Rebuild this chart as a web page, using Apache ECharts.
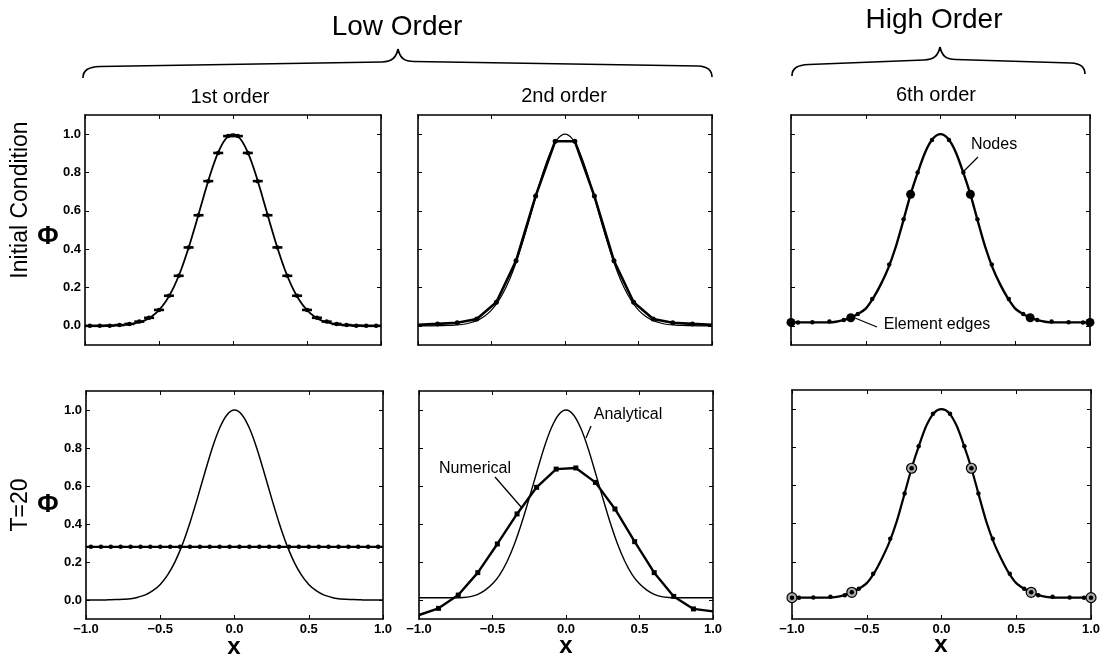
<!DOCTYPE html>
<html>
<head>
<meta charset="utf-8">
<script src="https://cdn.jsdelivr.net/npm/echarts@6/dist/echarts.min.js"></script>
<style>
    html, body { margin: 0; padding: 0; background: #fff; }
    #grafiek { width: 1104px; height: 658px; }
</style>
</head>
<body>
<div id="grafiek"></div>
<script>
// analytische oplossing (fijn raster)
const xExact = [-1.0, -0.95, -0.9, -0.85, -0.8, -0.75, -0.7, -0.65, -0.6, -0.55, -0.5, -0.45, -0.4, -0.35, -0.3, -0.25, -0.2, -0.15, -0.1, -0.05,
    0.0, 0.05, 0.1, 0.15, 0.2, 0.25, 0.3, 0.35, 0.4, 0.45, 0.5, 0.55, 0.6, 0.65, 0.7, 0.75, 0.8, 0.85, 0.9, 0.95, 1.0];
const phiExact = [0.000, 0.000, 0.000, 0.001, 0.002, 0.004, 0.007, 0.015, 0.027, 0.049, 0.082, 0.132, 0.202, 0.294, 0.407, 0.535, 0.670, 0.799, 0.905, 0.975,
    1.000, 0.975, 0.905, 0.799, 0.670, 0.535, 0.407, 0.294, 0.202, 0.132, 0.082, 0.049, 0.027, 0.015, 0.007, 0.004, 0.002, 0.001, 0.000, 0.000, 0.000];
const phiExactT20 = [0.012, 0.012, 0.012, 0.012, 0.012, 0.012, 0.013, 0.018, 0.030, 0.052, 0.085, 0.134, 0.204, 0.296, 0.409, 0.537, 0.670, 0.799, 0.905, 0.975,
    1.000, 0.975, 0.905, 0.799, 0.670, 0.537, 0.409, 0.296, 0.204, 0.134, 0.085, 0.052, 0.030, 0.018, 0.013, 0.012, 0.012, 0.012, 0.012, 0.012, 0.012];

// 6de orde: doorlopende curve (zelfde raster)
const phiCurve6Init = [0.018, 0.018, 0.018, 0.018, 0.018, 0.018, 0.021, 0.030, 0.042, 0.063, 0.090, 0.145, 0.215, 0.300, 0.410, 0.545, 0.686, 0.805, 0.910, 0.977,
    1.000, 0.977, 0.910, 0.805, 0.686, 0.545, 0.410, 0.300, 0.215, 0.145, 0.090, 0.063, 0.042, 0.030, 0.021, 0.018, 0.018, 0.018, 0.018, 0.018, 0.018];
const phiCurve6T20 = [0.012, 0.012, 0.012, 0.012, 0.012, 0.012, 0.016, 0.025, 0.040, 0.060, 0.088, 0.142, 0.215, 0.300, 0.410, 0.548, 0.690, 0.810, 0.915, 0.980,
    1.000, 0.980, 0.915, 0.810, 0.690, 0.548, 0.410, 0.300, 0.215, 0.142, 0.088, 0.060, 0.040, 0.025, 0.016, 0.012, 0.012, 0.012, 0.012, 0.012, 0.012];

// 1ste orde: celgemiddelden (30 cellen)
const xCell = [-0.967, -0.9, -0.833, -0.767, -0.7, -0.633, -0.567, -0.5, -0.433, -0.367, -0.3, -0.233, -0.167, -0.1, -0.033,
    0.033, 0.1, 0.167, 0.233, 0.3, 0.367, 0.433, 0.5, 0.567, 0.633, 0.7, 0.767, 0.833, 0.9, 0.967];
const phiCellInit = [0.000, 0.000, 0.001, 0.004, 0.010, 0.022, 0.042, 0.083, 0.157, 0.261, 0.409, 0.577, 0.755, 0.902, 0.990,
    0.990, 0.902, 0.755, 0.577, 0.409, 0.261, 0.157, 0.083, 0.042, 0.022, 0.010, 0.004, 0.001, 0.000, 0.000];
const phiCellT20 = [0.28, 0.28, 0.28, 0.28, 0.28, 0.28, 0.28, 0.28, 0.28, 0.28, 0.28, 0.28, 0.28, 0.28, 0.28,
    0.28, 0.28, 0.28, 0.28, 0.28, 0.28, 0.28, 0.28, 0.28, 0.28, 0.28, 0.28, 0.28, 0.28, 0.28];

// 2de orde: knopen
const xNode2 = [-1.0, -0.867, -0.733, -0.6, -0.467, -0.333, -0.2, -0.067, 0.067, 0.2, 0.333, 0.467, 0.6, 0.733, 0.867, 1.0];
const phiNode2Init = [0.005, 0.010, 0.016, 0.036, 0.123, 0.339, 0.677, 0.963, 0.963, 0.677, 0.339, 0.123, 0.036, 0.016, 0.010, 0.005];
const phiNode2T20 = [-0.079, -0.044, 0.026, 0.144, 0.295, 0.453, 0.593, 0.689, 0.695, 0.619, 0.479, 0.307, 0.144, 0.019, -0.047, -0.060];

// 6de orde: knopen (5 elementen, 6 punten per element)
const xNode6 = [-1.0, -0.953, -0.857, -0.743, -0.647, -0.6, -0.553, -0.457, -0.343, -0.247, -0.2, -0.153, -0.057,
    0.057, 0.153, 0.2, 0.247, 0.343, 0.457, 0.553, 0.6, 0.647, 0.743, 0.857, 0.953, 1.0];
const phiNode6Init = [0.018, 0.018, 0.019, 0.022, 0.030, 0.042, 0.062, 0.140, 0.320, 0.556, 0.686, 0.800, 0.970,
    0.970, 0.800, 0.686, 0.556, 0.320, 0.140, 0.062, 0.042, 0.030, 0.022, 0.019, 0.018, 0.018];
const phiNode6T20 = [0.012, 0.012, 0.013, 0.016, 0.025, 0.040, 0.058, 0.137, 0.320, 0.558, 0.690, 0.805, 0.975,
    0.975, 0.805, 0.690, 0.558, 0.320, 0.137, 0.058, 0.040, 0.025, 0.016, 0.013, 0.012, 0.012];

const yTicks = [0.0, 0.2, 0.4, 0.6, 0.8, 1.0];

const font = "'Liberation Sans', Arial, sans-serif";
const pts = (xs, ys) => xs.map((x, i) => [x, ys[i]]);
const edges = (xs, ys) => pts(xs, ys).filter((p, i) => i % 5 === 0);

const grids = [
    { left: 85, top: 115, width: 296, height: 230, outerBoundsMode: 'none' },
    { left: 418, top: 115, width: 294, height: 230, outerBoundsMode: 'none' },
    { left: 791, top: 115, width: 299, height: 230, outerBoundsMode: 'none' },
    { left: 86, top: 391, width: 297, height: 228, outerBoundsMode: 'none' },
    { left: 419, top: 391, width: 294, height: 228, outerBoundsMode: 'none' },
    { left: 792, top: 390, width: 299, height: 229, outerBoundsMode: 'none' }
];

let xAxes = [], yAxes = [];
grids.forEach((g, i) => {
    let bottomRow = i >= 3;
    let leftCol = i === 0 || i === 3;
    let tick = { show: true, inside: true, length: 4, lineStyle: { color: '#000', width: 1 } };
    let line = { show: true, onZero: false, lineStyle: { color: '#000', width: 1.6 } };
    xAxes.push({
        type: 'value', gridIndex: i, min: -1, max: 1, interval: 0.5, position: 'bottom',
        axisLine: line, axisTick: tick, splitLine: { show: false },
        axisLabel: {
            show: bottomRow, margin: 4, color: '#000', fontWeight: 'bold', fontSize: 13, fontFamily: font,
            formatter: v => (Math.abs(v) < 1e-9 ? '0.0' : v.toFixed(1).replace('-', '\u2212'))
        }
    });
    xAxes.push({
        type: 'value', gridIndex: i, min: -1, max: 1, interval: 0.5, position: 'top',
        axisLine: line, axisTick: tick, axisLabel: { show: false }, splitLine: { show: false }
    });
    yAxes.push({
        type: 'value', gridIndex: i, min: -0.1, max: 1.1, position: 'left',
        axisLine: line, axisTick: Object.assign({ customValues: yTicks }, tick), splitLine: { show: false },
        axisLabel: {
            show: leftCol, customValues: yTicks, margin: 4, color: '#000', fontWeight: 'bold', fontSize: 13, fontFamily: font,
            formatter: v => v.toFixed(1)
        }
    });
    yAxes.push({
        type: 'value', gridIndex: i, min: -0.1, max: 1.1, position: 'right',
        axisLine: line, axisTick: Object.assign({ customValues: yTicks }, tick),
        axisLabel: { show: false }, splitLine: { show: false }
    });
});

function lijn(i, data, width, smooth) {
    return {
        type: 'line', xAxisIndex: 2 * i, yAxisIndex: 2 * i, data: data, showSymbol: false,
        smooth: smooth, lineStyle: { color: '#000', width: width }, z: 2
    };
}
function punten(i, data, symbol, size, extra) {
    return Object.assign({
        type: 'scatter', xAxisIndex: 2 * i, yAxisIndex: 2 * i, data: data,
        symbol: symbol, symbolSize: size, itemStyle: { color: '#000', opacity: 1 }, z: 3
    }, extra || {});
}

const t20Flat = [[-1, phiCellT20[0]]].concat(pts(xCell, phiCellT20), [[1, phiCellT20[phiCellT20.length - 1]]]);

const series = [
    // 1ste orde, begintoestand
    lijn(0, pts(xExact, phiExact), 1.8, 0.3),
    punten(0, pts(xCell, phiCellInit), 'rect', [10, 2.6]),
    punten(0, pts(xCell, phiCellInit), 'circle', 4.5),
    // 2de orde, begintoestand
    lijn(1, pts(xExact, phiExact), 1.2, 0.3),
    lijn(1, pts(xNode2, phiNode2Init), 2.6, false),
    punten(1, pts(xNode2, phiNode2Init).slice(1, -1), 'circle', 5),
    // 6de orde, begintoestand
    lijn(2, pts(xExact, phiCurve6Init), 2.4, 0.3),
    punten(2, pts(xNode6, phiNode6Init), 'circle', 4.5),
    punten(2, edges(xNode6, phiNode6Init), 'circle', 9),
    // 1ste orde, T=20
    lijn(3, pts(xExact, phiExact), 1.5, 0.3),
    lijn(3, t20Flat, 2.2, false),
    punten(3, pts(xCell, phiCellT20), 'circle', 4.5),
    // 2de orde, T=20
    lijn(4, pts(xExact, phiExactT20), 1.4, 0.3),
    lijn(4, pts(xNode2, phiNode2T20), 2.4, false),
    punten(4, pts(xNode2, phiNode2T20).slice(1, -1), 'rect', 5),
    // 6de orde, T=20
    lijn(5, pts(xExact, phiCurve6T20), 2.2, 0.3),
    punten(5, edges(xNode6, phiNode6T20), 'circle', 10, { itemStyle: { color: '#aaa', borderColor: '#000', borderWidth: 1.2, opacity: 1 }, z: 3 }),
    punten(5, pts(xNode6, phiNode6T20), 'circle', 4.5, { z: 4 })
];

function tekst(t, x, y, size, extra) {
    return Object.assign({
        type: 'text', x: x, y: y, z: 10,
        style: { text: t, font: size + 'px ' + font, fill: '#000', textAlign: 'center', textVerticalAlign: 'middle', verticalAlign: 'middle' }
    }, extra || {});
}
function streep(x1, y1, x2, y2) {
    return { type: 'line', z: 10, shape: { x1: x1, y1: y1, x2: x2, y2: y2 }, style: { stroke: '#000', lineWidth: 1.3 } };
}
function boog(x1, y1, cx1, cy1, cx2, cy2, x2, y2) {
    return {
        type: 'bezierCurve', z: 10,
        shape: { x1: x1, y1: y1, cpx1: cx1, cpy1: cy1, cpx2: cx2, cpy2: cy2, x2: x2, y2: y2 },
        style: { fill: 'none', stroke: '#000', lineWidth: 1.7 }
    };
}
// accolade: uiteinden links/rechts, punt in het midden
function accolade(xl, yl, xm, ym, xr, yr) {
    return [
        boog(xl, yl, xl, yl - 8, xl + 5, yl - 11, xl + 17, yl - 11.5),
        Object.assign(streep(xl + 17, yl - 11.5, xm - 16, ym + 13), { style: { stroke: '#000', lineWidth: 1.7 } }),
        boog(xm - 16, ym + 13, xm - 6, ym + 12.5, xm - 2, ym + 9, xm, ym),
        boog(xm, ym, xm + 2, ym + 9, xm + 6, ym + 12.5, xm + 16, ym + 12.5),
        Object.assign(streep(xm + 16, ym + 12.5, xr - 14, yr - 11), { style: { stroke: '#000', lineWidth: 1.7 } }),
        boog(xr - 14, yr - 11, xr - 4, yr - 10.5, xr, yr - 7, xr, yr)
    ];
}
const vet = (t, size) => ({ text: t, font: 'bold ' + size + 'px ' + font, fill: '#000', textAlign: 'center', textVerticalAlign: 'middle', verticalAlign: 'middle' });

const graphic = [
    tekst('Low Order', 397, 27, 28),
    tekst('High Order', 934, 20, 28),
    tekst('1st order', 230, 97, 20),
    tekst('2nd order', 564, 96, 20),
    tekst('6th order', 936, 95, 20),
    tekst('Initial Condition', 21, 200, 23, { rotation: Math.PI / 2 }),
    tekst('Φ', 48, 237, 26, { style: vet('Φ', 26) }),
    tekst('T=20', 21, 505, 23, { rotation: Math.PI / 2 }),
    tekst('Φ', 48, 505, 26, { style: vet('Φ', 26) }),
    tekst('x', 234, 647, 24, { style: vet('x', 24) }),
    tekst('x', 566, 646, 24, { style: vet('x', 24) }),
    tekst('x', 941, 645, 24, { style: vet('x', 24) }),
    tekst('Nodes', 994, 145, 16),
    streep(978, 157, 963, 172),
    tekst('Element edges', 937, 325, 16),
    streep(877, 327, 855, 318),
    tekst('Analytical', 628, 415, 16),
    streep(591, 426, 586, 438),
    tekst('Numerical', 475, 469, 16),
    streep(495, 477, 522, 508)
].concat(accolade(83, 78, 398, 49, 712, 77), accolade(792, 76, 940, 47, 1085, 74));

window.onload = function () {
    let grafiek = echarts.init(document.getElementById('grafiek'));
    grafiek.setOption({
        animation: false,
        backgroundColor: '#fff',
        grid: grids,
        xAxis: xAxes,
        yAxis: yAxes,
        series: series,
        graphic: graphic
    });
};
</script>
</body>
</html>
